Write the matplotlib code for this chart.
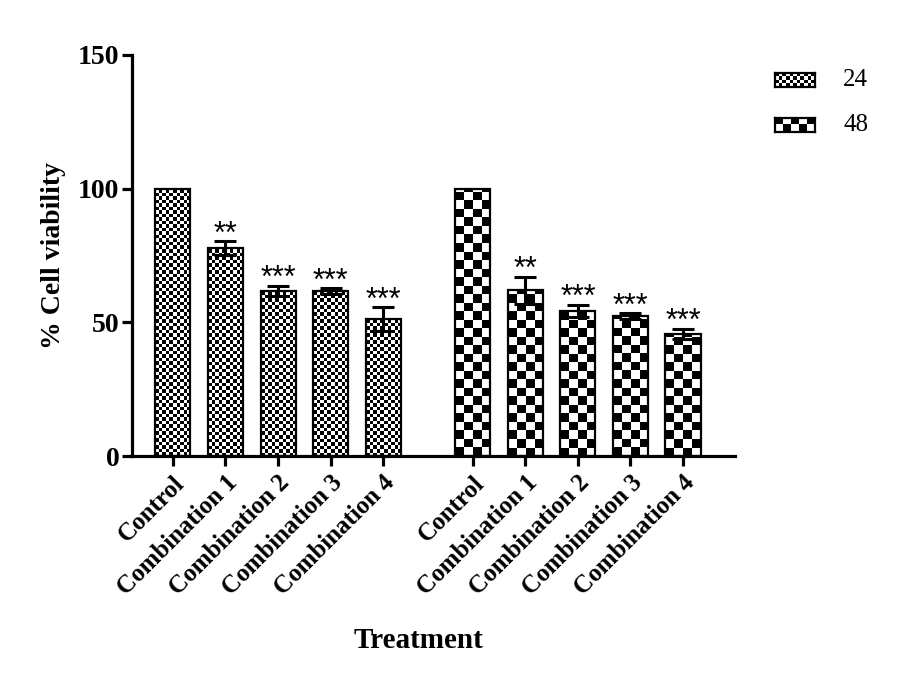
import numpy as np
import matplotlib
matplotlib.use("Agg")
import matplotlib.pyplot as plt
from matplotlib.patches import Rectangle

categories = ["Control", "Combination 1", "Combination 2", "Combination 3", "Combination 4"]
series_names = ["24", "48"]
values_24 = [100, 77.8, 61.7, 61.7, 51.2]
errors_24 = [0, 2.5, 2.0, 1.0, 4.5]
stars_24 = ["", "**", "***", "***", "***"]
values_48 = [100, 62.0, 54.2, 52.4, 45.6]
errors_48 = [0, 5.0, 2.3, 1.0, 2.0]
stars_48 = ["", "**", "***", "***", "***"]
yticks = [0, 50, 100, 150]

plt.rcParams['font.family'] = ['Liberation Serif', 'DejaVu Serif']

fig = plt.figure(figsize=(8.98, 6.84), dpi=100)
ax = fig.add_axes([132/898, 1-456/684, (735-132)/898, (456-55)/684])

gap = 5.71
x24 = np.arange(len(categories))
x48 = np.arange(len(categories)) + gap
width = 0.667
ax.set_xlim(-0.78, 10.7)
ax.set_ylim(0, 150)

def checker(nx, ny):
    i, j = np.meshgrid(np.arange(nx), np.arange(ny))
    return ((i + j) % 2).astype(float)

def px_per_unit():
    fig.canvas.draw()
    p0 = ax.transData.transform((0, 0))
    p1 = ax.transData.transform((1, 1))
    return p1[0]-p0[0], p1[1]-p0[1]

pxx, pxy = px_per_unit()

def draw_bars(xs, vals, errs, stars, sq):
    for x, v, e, s in zip(xs, vals, errs, stars):
        x0 = x - width/2
        rect = Rectangle((x0, 0), width, v, facecolor='none', edgecolor='black',
                         linewidth=1.6, zorder=3)
        ax.add_patch(rect)
        nx = max(1, int(round(width*pxx/sq)))
        ny = max(1, int(np.ceil(v*pxy/sq)))
        img = ax.imshow(checker(nx, ny), cmap='gray', vmin=0, vmax=1,
                        extent=(x0, x0+width, 0, ny*sq/pxy), origin='lower',
                        interpolation='nearest', aspect='auto', zorder=2)
        clip = Rectangle((x0, 0), width, v, transform=ax.transData)
        img.set_clip_path(clip)
        if e > 0:
            ax.errorbar(x, v, yerr=e, fmt='none', ecolor='black', elinewidth=2.2,
                        capsize=8, capthick=2.2, zorder=4)
        if s:
            ax.annotate(s, (x, v+e), xytext=(0, -6), textcoords='offset points',
                        ha='center', va='bottom', fontsize=22,
                        family=['Liberation Sans', 'DejaVu Sans'], zorder=5)

draw_bars(x24, values_24, errors_24, stars_24, 3.5)
draw_bars(x48, values_48, errors_48, stars_48, 8.5)
ax.set_xlim(-0.78, 10.7)
ax.set_ylim(0, 150)

for sp in ['top', 'right']:
    ax.spines[sp].set_visible(False)
for sp in ['left', 'bottom']:
    ax.spines[sp].set_linewidth(2.3)

ax.set_yticks(yticks)
ax.set_yticklabels([str(t) for t in yticks], fontsize=20, fontweight='bold')
ax.set_xticks(list(x24) + list(x48))
ax.set_xticklabels(categories + categories, rotation=45, ha='right',
                   rotation_mode='anchor', fontsize=18, fontweight='bold')
ax.tick_params(axis='both', direction='out', width=2.3, length=7)
ax.tick_params(axis='x', pad=4)
ax.tick_params(axis='y', pad=2)

ax.set_ylabel("% Cell viability", fontsize=20, fontweight='bold', labelpad=9)
fig.text(418/898, 1-640/684, "Treatment", ha='center', va='center',
         fontsize=21, fontweight='bold')

# legend swatches
for k, (name, sq) in enumerate(zip(series_names, [3.5, 8.5])):
    yc = 80 + k*45
    lax = fig.add_axes([775/898, 1-(yc+7)/684, 40/898, 14/684])
    nx = int(round(40/sq)); ny = max(1, int(round(14/sq)))
    lax.imshow(checker(nx, ny), cmap='gray', vmin=0, vmax=1, aspect='auto',
               interpolation='nearest', extent=(0, 1, 0, 1))
    lax.set_xticks([]); lax.set_yticks([])
    for sp in lax.spines.values():
        sp.set_linewidth(1.6)
    fig.text(843/898, 1-yc/684, name, ha='left', va='center', fontsize=18)

fig.savefig("out.png", dpi=100)
